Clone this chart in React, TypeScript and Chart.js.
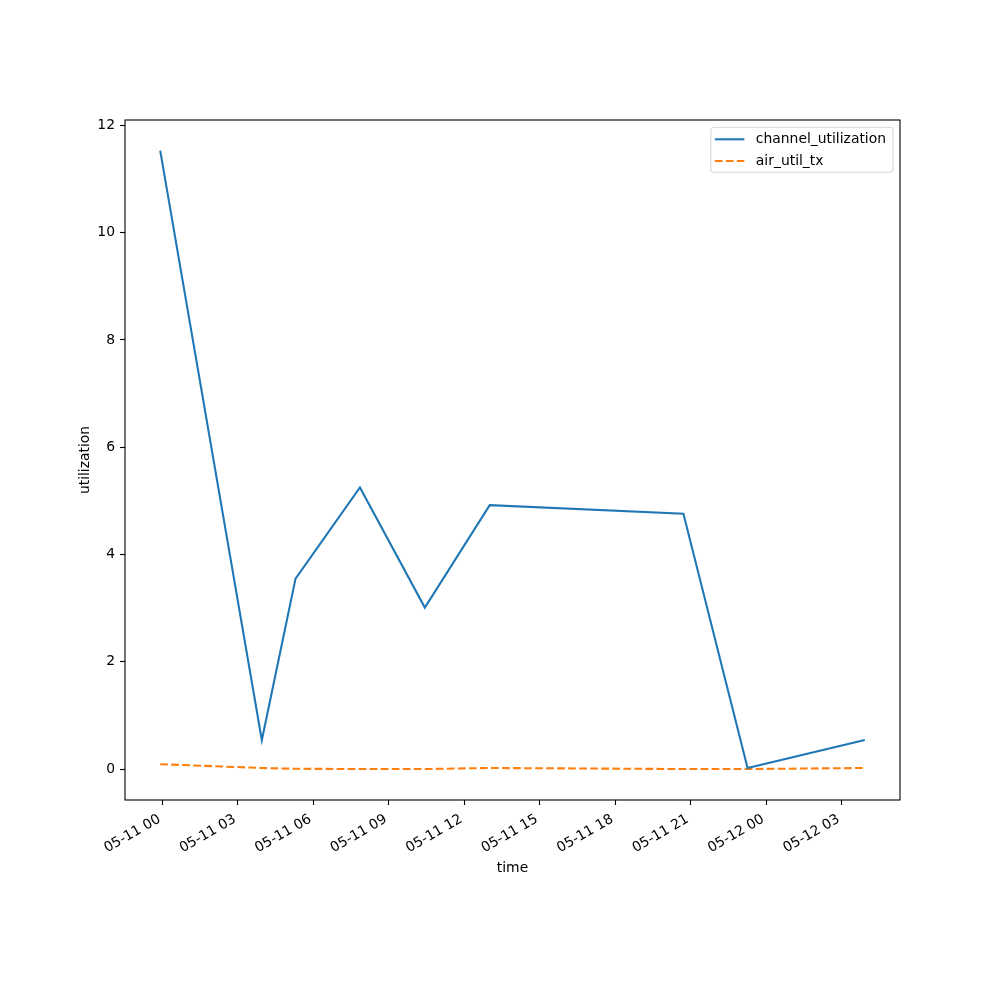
import React, { useEffect, useRef } from "react";
import { Chart, registerables } from "chart.js";

Chart.register(...registerables);

// Hours since 05-11 00:00
const timeHours = [-0.09, 3.95, 5.29, 7.85, 10.43, 13.01, 20.71, 23.26, 27.92];
const channelUtilization = [11.53, 0.54, 3.55, 5.25, 3.01, 4.92, 4.76, 0.02, 0.54];
const airUtilTx = [0.09, 0.02, 0.005, 0.0, 0.0, 0.02, 0.0, 0.0, 0.02];

const seriesLabels = ["channel_utilization", "air_util_tx"];
const seriesColors = ["#1f77b4", "#ff7f0e"];
const xTickHours = [0, 3, 6, 9, 12, 15, 18, 21, 24, 27];
const yTickValues = [0, 2, 4, 6, 8, 10, 12];
const xAxisTitle = "time";
const yAxisTitle = "utilization";
const baseMonth = "05";
const baseDay = 11;

const FONT = "'DejaVu Sans', sans-serif";
const FS = 13.9;

const pad2 = (n: number) => (n < 10 ? "0" + n : "" + n);
const fmtHour = (h: number) => {
  const day = baseDay + Math.floor(h / 24);
  const hh = ((h % 24) + 24) % 24;
  return `${baseMonth}-${pad2(day)} ${pad2(hh)}`;
};

const framePlugin = {
  id: "frame",
  afterDatasetsDraw(chart: any) {
    const { ctx, chartArea: a } = chart;
    ctx.save();
    ctx.strokeStyle = "#000";
    ctx.lineWidth = 1.1;
    ctx.strokeRect(a.left, a.top, a.right - a.left, a.bottom - a.top);
    ctx.restore();
  },
};

const insideLegendPlugin = {
  id: "insideLegend",
  afterDraw(chart: any) {
    const { ctx, chartArea: a } = chart;
    const ds = chart.data.datasets;
    ctx.save();
    ctx.font = `${FS}px ${FONT}`;
    const textW = Math.max(...ds.map((d: any) => ctx.measureText(d.label).width));
    const boxW = 45 + textW + 7;
    const rowH = 21.7;
    const boxH = 11.7 + rowH * (ds.length - 1) + 11.6;
    const right = a.right - 7;
    const left = right - boxW;
    const top = a.top + 7.3;
    ctx.beginPath();
    if (ctx.roundRect) ctx.roundRect(left, top, boxW, boxH, 3);
    else ctx.rect(left, top, boxW, boxH);
    ctx.fillStyle = "rgba(255,255,255,0.8)";
    ctx.fill();
    ctx.strokeStyle = "rgba(204,204,204,0.8)";
    ctx.lineWidth = 1.1;
    ctx.stroke();
    ds.forEach((d: any, i: number) => {
      const cy = top + 12.5 + i * rowH;
      ctx.beginPath();
      ctx.setLineDash(d.borderDash || []);
      ctx.strokeStyle = d.borderColor;
      ctx.lineWidth = d.borderWidth;
      ctx.moveTo(left + 4, cy - 0.5);
      ctx.lineTo(left + 33.5, cy - 0.5);
      ctx.stroke();
      ctx.setLineDash([]);
      ctx.fillStyle = "#000";
      ctx.textBaseline = "middle";
      ctx.textAlign = "left";
      ctx.fillText(d.label, left + 45, cy);
    });
    ctx.restore();
  },
};

export default function App() {
  const ref = useRef<HTMLCanvasElement | null>(null);
  useEffect(() => {
    if (!ref.current) return;
    const font = { family: FONT, size: FS };
    const chart = new Chart(ref.current, {
      type: "line",
      data: {
        datasets: [
          {
            label: seriesLabels[0],
            data: timeHours.map((t, i) => ({ x: t, y: channelUtilization[i] })),
            borderColor: seriesColors[0],
            backgroundColor: seriesColors[0],
            borderWidth: 2.08,
            pointRadius: 0,
            tension: 0,
            fill: false,
          },
          {
            label: seriesLabels[1],
            data: timeHours.map((t, i) => ({ x: t, y: airUtilTx[i] })),
            borderColor: seriesColors[1],
            backgroundColor: seriesColors[1],
            borderWidth: 2.08,
            borderDash: [7.7, 3.33],
            pointRadius: 0,
            tension: 0,
            fill: false,
          },
        ],
      },
      options: {
        animation: false,
        responsive: false,
        maintainAspectRatio: false,
        layout: { padding: { left: 73, right: 100, top: 120, bottom: 119 } },
        plugins: {
          legend: { display: false },
          tooltip: { enabled: false },
        },
        scales: {
          x: {
            type: "linear",
            min: -1.49,
            max: 29.32,
            afterBuildTicks: (s: any) => {
              s.ticks = xTickHours.map((v) => ({ value: v }));
            },
            afterFit: (s: any) => {
              s.height = 81;
            },
            grid: {
              display: true,
              drawOnChartArea: false,
              drawTicks: true,
              tickLength: 5,
              tickColor: "#000",
              tickWidth: 1.1,
            },
            border: { display: false },
            ticks: {
              color: "#000",
              font,
              padding: 6,
              labelOffset: -3,
              minRotation: 30,
              maxRotation: 30,
              autoSkip: false,
              callback: (v: any) => fmtHour(Number(v)),
            },
            title: {
              display: true,
              text: xAxisTitle,
              color: "#000",
              font,
              padding: { top: 4, bottom: 4 },
            },
          },
          y: {
            type: "linear",
            min: -0.577,
            max: 12.1,
            afterBuildTicks: (s: any) => {
              s.ticks = yTickValues.map((v) => ({ value: v }));
            },
            afterFit: (s: any) => {
              s.width = 52;
            },
            grid: {
              display: true,
              drawOnChartArea: false,
              drawTicks: true,
              tickLength: 5,
              tickColor: "#000",
              tickWidth: 1.1,
            },
            border: { display: false },
            ticks: {
              color: "#000",
              font,
              padding: 5,
              callback: (v: any) => String(v),
            },
            title: {
              display: true,
              text: yAxisTitle,
              color: "#000",
              font,
              padding: { top: 4, bottom: 4 },
            },
          },
        },
      },
      plugins: [framePlugin, insideLegendPlugin],
    } as any);
    return () => chart.destroy();
  }, []);
  return (
    <div style={{ position: "absolute", left: 0, top: 0, width: 1000, height: 1000, background: "#fff" }}>
      <canvas ref={ref} width={1000} height={1000} style={{ display: "block", width: 1000, height: 1000 }} />
    </div>
  );
}
